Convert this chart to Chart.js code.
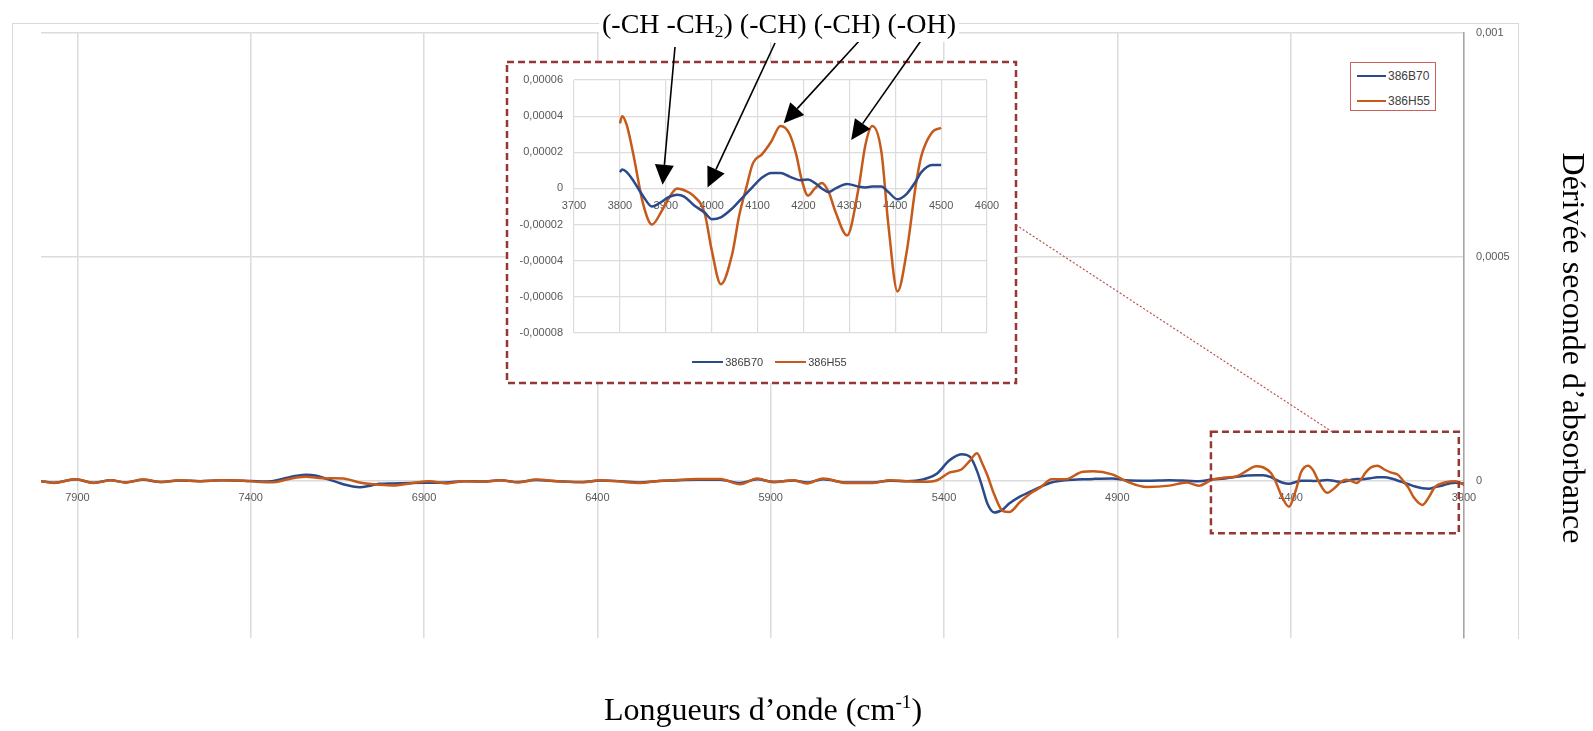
<!DOCTYPE html>
<html lang="fr">
<head>
<meta charset="UTF-8">
<title>Dérivée seconde d’absorbance</title>
<script src="https://cdn.jsdelivr.net/npm/chart.js"></script>
<style>
  body { margin: 0; background: #fff; }
  #page { position: relative; width: 1593px; height: 731px; overflow: hidden; font-family: "Liberation Serif", "Times New Roman", serif; color: #000; }
  #frame { position: absolute; left: 12px; top: 23px; width: 1505px; height: 615px; border: 1.5px solid #d9d9d9; border-bottom: none; }
  #mainChart { position: absolute; left: 0; top: 0; }
  #inset { position: absolute; left: 507px; top: 62px; width: 509px; height: 321px; background: #fff; }
  #insetChart { position: absolute; left: 0; top: 0; }
  #deco { position: absolute; left: 0; top: 0; pointer-events: none; }
  .legend { font-family: "Liberation Sans", Arial, sans-serif; color: #404040; }
  .legend .item { display: flex; align-items: center; white-space: nowrap; }
  .legend .swatch { display: inline-block; height: 2.5px; margin-right: 2px; }
  #mainLegend { position: absolute; left: 1350px; top: 62px; width: 84px; height: 47px; border: 1.5px solid #cf5f5c; background: #fff; font-size: 12px; }
  #mainLegend .item { position: absolute; left: 6px; height: 14px; }
  #mainLegend .swatch { width: 29px; }
  #insetLegend { position: absolute; left: 8px; top: 293px; width: 100%; height: 14px; font-size: 11px; display: flex; justify-content: center; gap: 12px; }
  #insetLegend .swatch { width: 31px; }
  #groups { position: absolute; left: 779px; top: 10px; transform: translateX(-50%); font-size: 28px; line-height: 28px; background: #fff; white-space: nowrap; padding: 0 3px; }
  #groups .sub { font-size: 0.62em; position: relative; top: 0.25em; }
  #xTitle { position: absolute; left: 763px; top: 693px; transform: translateX(-50%); font-size: 32px; line-height: 32px; white-space: nowrap; }
  #xTitle .sup { font-size: 0.6em; position: relative; top: -0.62em; }
  #yTitle { position: absolute; left: 1574px; top: 348px; transform: translate(-50%, -50%) rotate(90deg); font-size: 32px; line-height: 32px; white-space: nowrap; }
</style>
</head>
<body>
<div id="page">
  <div id="frame"></div>
  <canvas id="mainChart" width="1593" height="731"></canvas>
  <div id="mainLegend" class="legend"></div>
  <div id="inset">
    <canvas id="insetChart" width="509" height="321"></canvas>
    <div id="insetLegend" class="legend"></div>
  </div>
  <svg id="deco" width="1593" height="731"></svg>
  <div id="groups">(-CH -CH<span class="sub">2</span>) (-CH) (-CH) (-OH)</div>
  <div id="xTitle">Longueurs d’onde (cm<span class="sup">-1</span>)</div>
  <div id="yTitle">Dérivée seconde d’absorbance</div>
</div>

<script>
  const seriesNames = ['386B70', '386H55'];
  const seriesColors = ['#2b4a8b', '#c55a1a'];

  // nombres d'onde (cm-1)
  const wavenumbers = [
    8005, 7967, 7906, 7854, 7803, 7762, 7710, 7659, 7607, 7545,
    7485, 7421, 7370, 7340, 7298, 7268, 7240, 7210, 7185, 7160,
    7133, 7105, 7085, 7060, 7030, 6990, 6940, 6886, 6835, 6784,
    6732, 6680, 6628, 6577, 6516, 6441, 6392, 6335, 6277, 6230,
    6181, 6112, 6046, 5988, 5939, 5893, 5835, 5795, 5749, 5680,
    5605, 5556, 5507, 5460, 5420, 5385, 5350, 5325, 5305, 5290,
    5275, 5255, 5230, 5212, 5180, 5150, 5120, 5090, 5050, 5000,
    4970, 4915, 4875, 4815, 4750, 4700, 4665, 4625, 4590, 4555,
    4525, 4500, 4480, 4457, 4445, 4425, 4405, 4385, 4370, 4350,
    4335, 4320, 4295, 4270, 4255, 4240, 4225, 4210, 4195, 4185,
    4170, 4150, 4130, 4110, 4090, 4075, 4060, 4045, 4020, 4000,
    3985, 3960, 3940, 3925, 3905, 3890, 3870, 3850, 3830, 3815,
    3805, 3800
  ];

  // dérivée seconde, en unités de 1e-5
  const b70 = [
    0.0, -0.35, 0.4, -0.35, 0.2, -0.3, 0.3, -0.2, 0.15, 0.0,
    0.2, 0.1, -0.1, 0.0, 0.7, 1.2, 1.45, 1.2, 0.6, 0.0,
    -0.7, -1.2, -1.35, -1.1, -0.6, -0.5, -0.4, -0.35, -0.3, 0.0,
    -0.1, 0.2, -0.2, 0.25, 0.0, -0.2, 0.15, 0.0, -0.3, 0.0,
    0.15, 0.3, 0.3, -0.4, 0.4, -0.15, 0.15, -0.3, 0.4, -0.3,
    -0.3, 0.1, 0.0, 0.4, 1.7, 4.6, 6.0, 5.4, 2.3, -1.2,
    -5.0, -7.0, -6.3, -5.0, -3.4, -2.3, -1.2, -0.3, 0.2, 0.4,
    0.5, 0.6, 0.2, 0.1, 0.2, 0.1, 0.0, 0.4, 0.6, 1.0,
    1.25, 1.3, 1.3, 0.9, 0.4, -0.3, -0.6, -0.2, 0.1, 0.1,
    0.05, 0.1, 0.25, 0.0, -0.2, 0.0, 0.3, 0.5, 0.45, 0.5,
    0.65, 0.85, 0.85, 0.6, 0.1, -0.3, -0.7, -1.1, -1.6, -1.7,
    -1.35, -0.9, -0.45, -0.35, -0.5, -0.75, -1.0, -0.4, 0.4, 0.9,
    1.05, 0.9
  ];

  const h55 = [
    0.0, -0.4, 0.45, -0.4, 0.2, -0.3, 0.35, -0.2, 0.2, 0.0,
    0.2, 0.1, -0.2, -0.25, 0.3, 0.8, 1.0, 0.75, 0.6, 0.65,
    0.6, 0.1, -0.3, -0.6, -0.8, -0.95, -0.5, 0.0, -0.5, 0.0,
    -0.15, 0.2, -0.3, 0.35, 0.0, -0.25, 0.2, -0.1, -0.4, 0.0,
    0.2, 0.5, 0.5, -0.7, 0.6, -0.25, 0.2, -0.5, 0.6, -0.4,
    -0.4, 0.2, 0.0, -0.15, 0.2, 1.9, 2.6, 4.6, 6.2, 4.0,
    1.3, -3.0, -6.7, -6.9, -4.6, -2.7, -1.3, 0.4, 0.4, 2.1,
    2.2, 1.5, 0.0, -1.3, -1.0, -0.3, -1.0, 0.4, 0.8, 1.1,
    2.4, 3.35, 3.1, 1.8, 0.2, -3.5, -5.7, -2.0, 2.0, 3.45,
    2.4, 0.0, -2.6, -1.3, -0.2, 0.3, 0.0, -0.4, 0.6, 1.8,
    3.0, 3.45, 2.6, 1.9, 1.4, 0.0, -1.5, -3.6, -5.3, -3.4,
    -1.4, -0.4, -0.1, 0.0, -0.6, -1.3, -2.0, -0.8, 1.8, 3.5,
    4.0, 3.6
  ];

  const mainTicksX = [7900, 7400, 6900, 6400, 5900, 5400, 4900, 4400, 3900];
  const mainTicksY = [0, 0.0005, 0.001];
  const insetTicksX = [3700, 3800, 3900, 4000, 4100, 4200, 4300, 4400, 4500, 4600];
  const insetTicksY = [-0.00008, -0.00006, -0.00004, -0.00002, 0, 0.00002, 0.00004, 0.00006];
  const insetRange = [3800, 4500];

  // zone agrandie (cadre pointillé du graphique principal)
  const zoomBox = { from: 4630, to: 3915, top: 0.00011, bottom: -0.000116 };
  // flèches : départ sous le texte (px), pointe en coordonnées de l'encart
  const arrowTails = [[675, 47], [775, 43], [860, 40], [925, 35]];
  const arrowTips = [[3893, 0.000002], [3991, 0.0000005], [4157, 0.000036], [4304, 0.0000268]];

  const fr = v => String(Math.round(v * 1e6) / 1e6).replace('.', ',');
  const seriesValues = [b70, h55];

  Chart.defaults.font.family = '"Liberation Sans", Arial, sans-serif';

  function points(values, keep) {
    return wavenumbers
      .map((w, i) => ({ x: w, y: values[i] * 1e-5 }))
      .filter(p => keep(p.x));
  }

  function datasets(keep, width) {
    return seriesNames.map((name, i) => ({
      label: name,
      data: points(seriesValues[i], keep).sort((a, b) => a.x - b.x),
      borderColor: seriesColors[i],
      borderWidth: width,
      pointRadius: 0,
      fill: false,
      cubicInterpolationMode: 'monotone'
    }));
  }

  const tickFont = { size: 11 };
  const gridColor = '#dcdcdc';

  const mainChart = new Chart(document.getElementById('mainChart'), {
    type: 'line',
    data: { datasets: datasets(() => true, 2.5).reverse() },
    options: {
      responsive: false,
      animation: false,
      layout: { padding: { left: 41, top: 33, right: 69, bottom: 93 } },
      plugins: { legend: { display: false }, tooltip: { enabled: false } },
      scales: {
        x: {
          type: 'linear',
          reverse: true,
          min: 3900,
          max: 8005,
          position: { y: 0 },
          afterBuildTicks: s => { s.ticks = mainTicksX.map(v => ({ value: v })); },
          afterFit: s => { s.height = 0; },
          ticks: { callback: v => String(v), font: tickFont, color: '#595959', padding: 10, maxRotation: 0, autoSkip: false },
          grid: { color: gridColor, lineWidth: 1.5, drawTicks: false },
          border: { display: false }
        },
        y: {
          position: 'right',
          min: -0.00035,
          max: 0.001,
          afterBuildTicks: s => { s.ticks = mainTicksY.map(v => ({ value: v })); },
          afterFit: s => { s.width = 60; },
          ticks: { callback: v => fr(v), font: tickFont, color: '#595959', padding: 12 },
          grid: { color: gridColor, lineWidth: 1.5, drawTicks: false },
          border: { color: '#a6a6a6', width: 1.5 }
        }
      }
    }
  });

  const insetChart = new Chart(document.getElementById('insetChart'), {
    type: 'line',
    data: { datasets: datasets(w => w >= insetRange[0] && w <= insetRange[1], 2.5) },
    options: {
      responsive: false,
      animation: false,
      layout: { padding: { left: 0, top: 18, right: 29, bottom: 50 } },
      plugins: { legend: { display: false }, tooltip: { enabled: false } },
      scales: {
        x: {
          type: 'linear',
          min: 3700,
          max: 4600,
          position: { y: 0 },
          afterBuildTicks: s => { s.ticks = insetTicksX.map(v => ({ value: v })); },
          afterFit: s => { s.height = 0; },
          ticks: { callback: v => String(v), font: tickFont, color: '#595959', padding: 11, maxRotation: 0, autoSkip: false },
          grid: { color: gridColor, lineWidth: 1.2, drawTicks: false },
          border: { display: false }
        },
        y: {
          position: 'left',
          min: -0.00008,
          max: 0.00006,
          afterBuildTicks: s => { s.ticks = insetTicksY.map(v => ({ value: v })); },
          afterFit: s => { s.width = 67; },
          ticks: { callback: v => fr(v), font: tickFont, color: '#595959', padding: 11 },
          grid: { color: gridColor, lineWidth: 1.2, drawTicks: false },
          border: { display: false }
        }
      }
    }
  });

  // légendes
  function legendItem(i) {
    const item = document.createElement('div');
    item.className = 'item';
    const sw = document.createElement('span');
    sw.className = 'swatch';
    sw.style.background = seriesColors[i];
    item.appendChild(sw);
    item.appendChild(document.createTextNode(seriesNames[i]));
    return item;
  }
  const mainLegend = document.getElementById('mainLegend');
  seriesNames.forEach((n, i) => {
    const it = legendItem(i);
    it.style.top = (6 + i * 25) + 'px';
    mainLegend.appendChild(it);
  });
  const insetLegend = document.getElementById('insetLegend');
  seriesNames.forEach((n, i) => insetLegend.appendChild(legendItem(i)));

  // cadres, liaison et flèches
  const svgNS = 'http://www.w3.org/2000/svg';
  const deco = document.getElementById('deco');
  function addSvg(tag, attrs) {
    const el = document.createElementNS(svgNS, tag);
    for (const k in attrs) el.setAttribute(k, attrs[k]);
    deco.appendChild(el);
    return el;
  }
  const boxStroke = { fill: 'none', stroke: '#953735', 'stroke-width': 2.5, 'stroke-dasharray': '7 4' };

  const mx = mainChart.scales.x, my = mainChart.scales.y;
  const zx1 = mx.getPixelForValue(zoomBox.from), zx2 = mx.getPixelForValue(zoomBox.to);
  const zy1 = my.getPixelForValue(zoomBox.top), zy2 = my.getPixelForValue(zoomBox.bottom);
  addSvg('rect', Object.assign({ x: zx1, y: zy1, width: zx2 - zx1, height: zy2 - zy1 }, boxStroke));

  const inset = document.getElementById('inset');
  const ix0 = inset.offsetLeft, iy0 = inset.offsetTop;
  addSvg('rect', Object.assign({ x: ix0, y: iy0, width: inset.offsetWidth, height: inset.offsetHeight }, boxStroke));

  addSvg('line', {
    x1: ix0 + inset.offsetWidth, y1: 225,
    x2: mx.getPixelForValue(4280), y2: zy1,
    stroke: '#c0504d', 'stroke-width': 1.2, 'stroke-dasharray': '2 2'
  });

  const sx = insetChart.scales.x, sy = insetChart.scales.y;
  arrowTips.forEach((tip, i) => {
    const tx = ix0 + sx.getPixelForValue(tip[0]);
    const ty = iy0 + sy.getPixelForValue(tip[1]);
    const [fx, fy] = arrowTails[i];
    const len = Math.hypot(tx - fx, ty - fy);
    const ux = (tx - fx) / len, uy = (ty - fy) / len;
    const head = 20, half = 9.5;
    const bx = tx - ux * head, by = ty - uy * head;
    addSvg('line', { x1: fx, y1: fy, x2: bx, y2: by, stroke: '#000', 'stroke-width': 1.6 });
    const pts = [
      [tx, ty],
      [bx - uy * half, by + ux * half],
      [bx + uy * half, by - ux * half]
    ].map(p => p.join(',')).join(' ');
    addSvg('polygon', { points: pts, fill: '#000' });
  });
</script>
</body>
</html>
